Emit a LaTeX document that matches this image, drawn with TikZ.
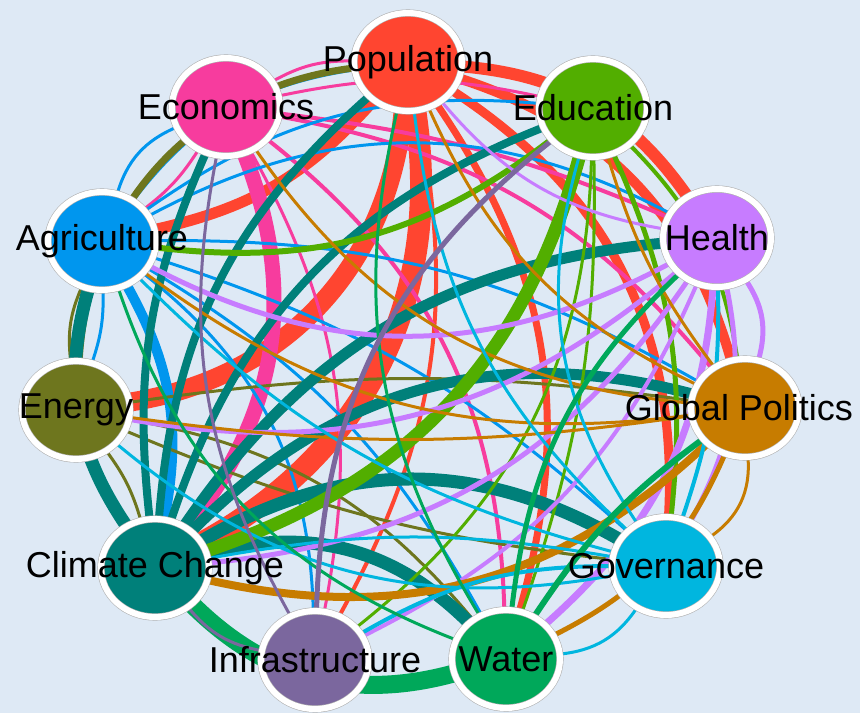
\documentclass[tikz,border=0pt]{standalone}
\usepackage{fontspec}
\setmainfont{Liberation Sans}
\usetikzlibrary{shapes.geometric}
\pgfdeclarelayer{edges}
\pgfsetlayers{edges,main}

% topic colours
\definecolor{bgblue}{HTML}{DEE9F5}
\definecolor{cpop}{HTML}{FF4530}
\definecolor{cedu}{HTML}{52AE00}
\definecolor{chea}{HTML}{C77CFF}
\definecolor{cglo}{HTML}{C77C00}
\definecolor{cgov}{HTML}{00B6DF}
\definecolor{cwat}{HTML}{00A85A}
\definecolor{cinf}{HTML}{7B679E}
\definecolor{ccli}{HTML}{00807A}
\definecolor{cene}{HTML}{6E761E}
\definecolor{cagr}{HTML}{0096EE}
\definecolor{ceco}{HTML}{F73C9E}

\tikzset{
  topic/.style={ellipse, minimum width=108pt, minimum height=98pt, inner sep=0pt,
    draw=gray!60, line width=0.6pt, double=white, double distance=6pt},
  lbl/.style={font=\fontsize{36}{39}\selectfont, text=black, inner sep=0pt}
}

\begin{document}
\begin{tikzpicture}[x=1pt,y=-1pt]
    \useasboundingbox (0,0) rectangle (860,713);

    % topics round the circle
    \node[topic, fill=cpop, label={[lbl]center:Population}] (pop) at (408,62) {};
    \node[topic, fill=cedu, label={[lbl]center:Education}] (edu) at (593,108) {};
    \node[topic, fill=chea, label={[lbl]center:Health}] (hea) at (717,238) {};
    \node[topic, fill=cglo, label={[lbl, xshift=-6pt]center:Global Politics}] (glo) at (745,408) {};
    \node[topic, fill=cgov, label={[lbl]center:Governance}] (gov) at (666,566) {};
    \node[topic, fill=cwat, label={[lbl]center:Water}] (wat) at (506,659) {};
    \node[topic, fill=cinf, label={[lbl]center:Infrastructure}] (inf) at (315,660) {};
    \node[topic, fill=ccli, label={[lbl]center:Climate Change}] (cli) at (155,568) {};
    \node[topic, fill=cene, label={[lbl]center:Energy}] (ene) at (76,410) {};
    \node[topic, fill=cagr, label={[lbl]center:Agriculture}] (agr) at (102,241) {};
    \node[topic, fill=ceco, label={[lbl]center:Economics}] (eco) at (226,107) {};

    % links, coloured by their source topic
    \begin{pgfonlayer}{edges}
    \fill[bgblue] (0,0) rectangle (860,713);
    \foreach \s/\t/\w/\b in {
        pop/cli/22/35, pop/ene/19/38, pop/agr/11/18, pop/hea/12/25, pop/glo/10/28,
        pop/gov/9/30, pop/wat/7/25, pop/inf/4/20,
        eco/cli/15/30, eco/wat/4/25, eco/glo/4/20, eco/pop/3/15, eco/edu/3/12,
        eco/hea/4/8, eco/inf/3/20, eco/agr/3/10,
        agr/cli/10/20, agr/hea/3/28, agr/edu/3/20, agr/pop/3/22, agr/glo/3/15,
        agr/gov/3/12, agr/wat/3/15, agr/inf/3/25, agr/eco/3/25, agr/ene/3/10,
        ene/pop/7/40, ene/glo/3/8, ene/gov/3/-8, ene/wat/3/20, ene/cli/3/10, ene/agr/3/15,
        cli/hea/11/25, cli/glo/11/30, cli/gov/13/30, cli/wat/13/30, cli/agr/13/25,
        cli/pop/8/22, cli/eco/8/15, cli/edu/8/25,
        edu/cli/13/28, edu/agr/6/22, edu/gov/5/15, edu/glo/4/18, edu/wat/3/10, edu/inf/3/25,
        hea/glo/5/25, hea/gov/5/20, hea/wat/7/22, hea/ene/5/25, hea/agr/5/28,
        hea/cli/5/25, hea/inf/4/20, hea/pop/3/20,
        glo/cli/8/28, glo/wat/5/20, glo/gov/3/30, glo/agr/3/22, glo/eco/3/25,
        glo/pop/3/20, glo/ene/3/8, glo/edu/3/10,
        gov/wat/3/25, gov/inf/4/-15, gov/ene/3/25, gov/pop/3/20, gov/edu/3/25,
        gov/agr/3/15, gov/hea/4/-10, gov/cli/3/-10,
        wat/cli/18/30, wat/agr/3/25, wat/pop/3/22, wat/hea/5/20, wat/glo/6/10,
        inf/edu/5/25, inf/eco/3/20, inf/cli/3/20}
      \draw[draw=c\s, line width=\w pt] (\s) to[bend left=\b] (\t);
    \end{pgfonlayer}
\end{tikzpicture}
\end{document}
